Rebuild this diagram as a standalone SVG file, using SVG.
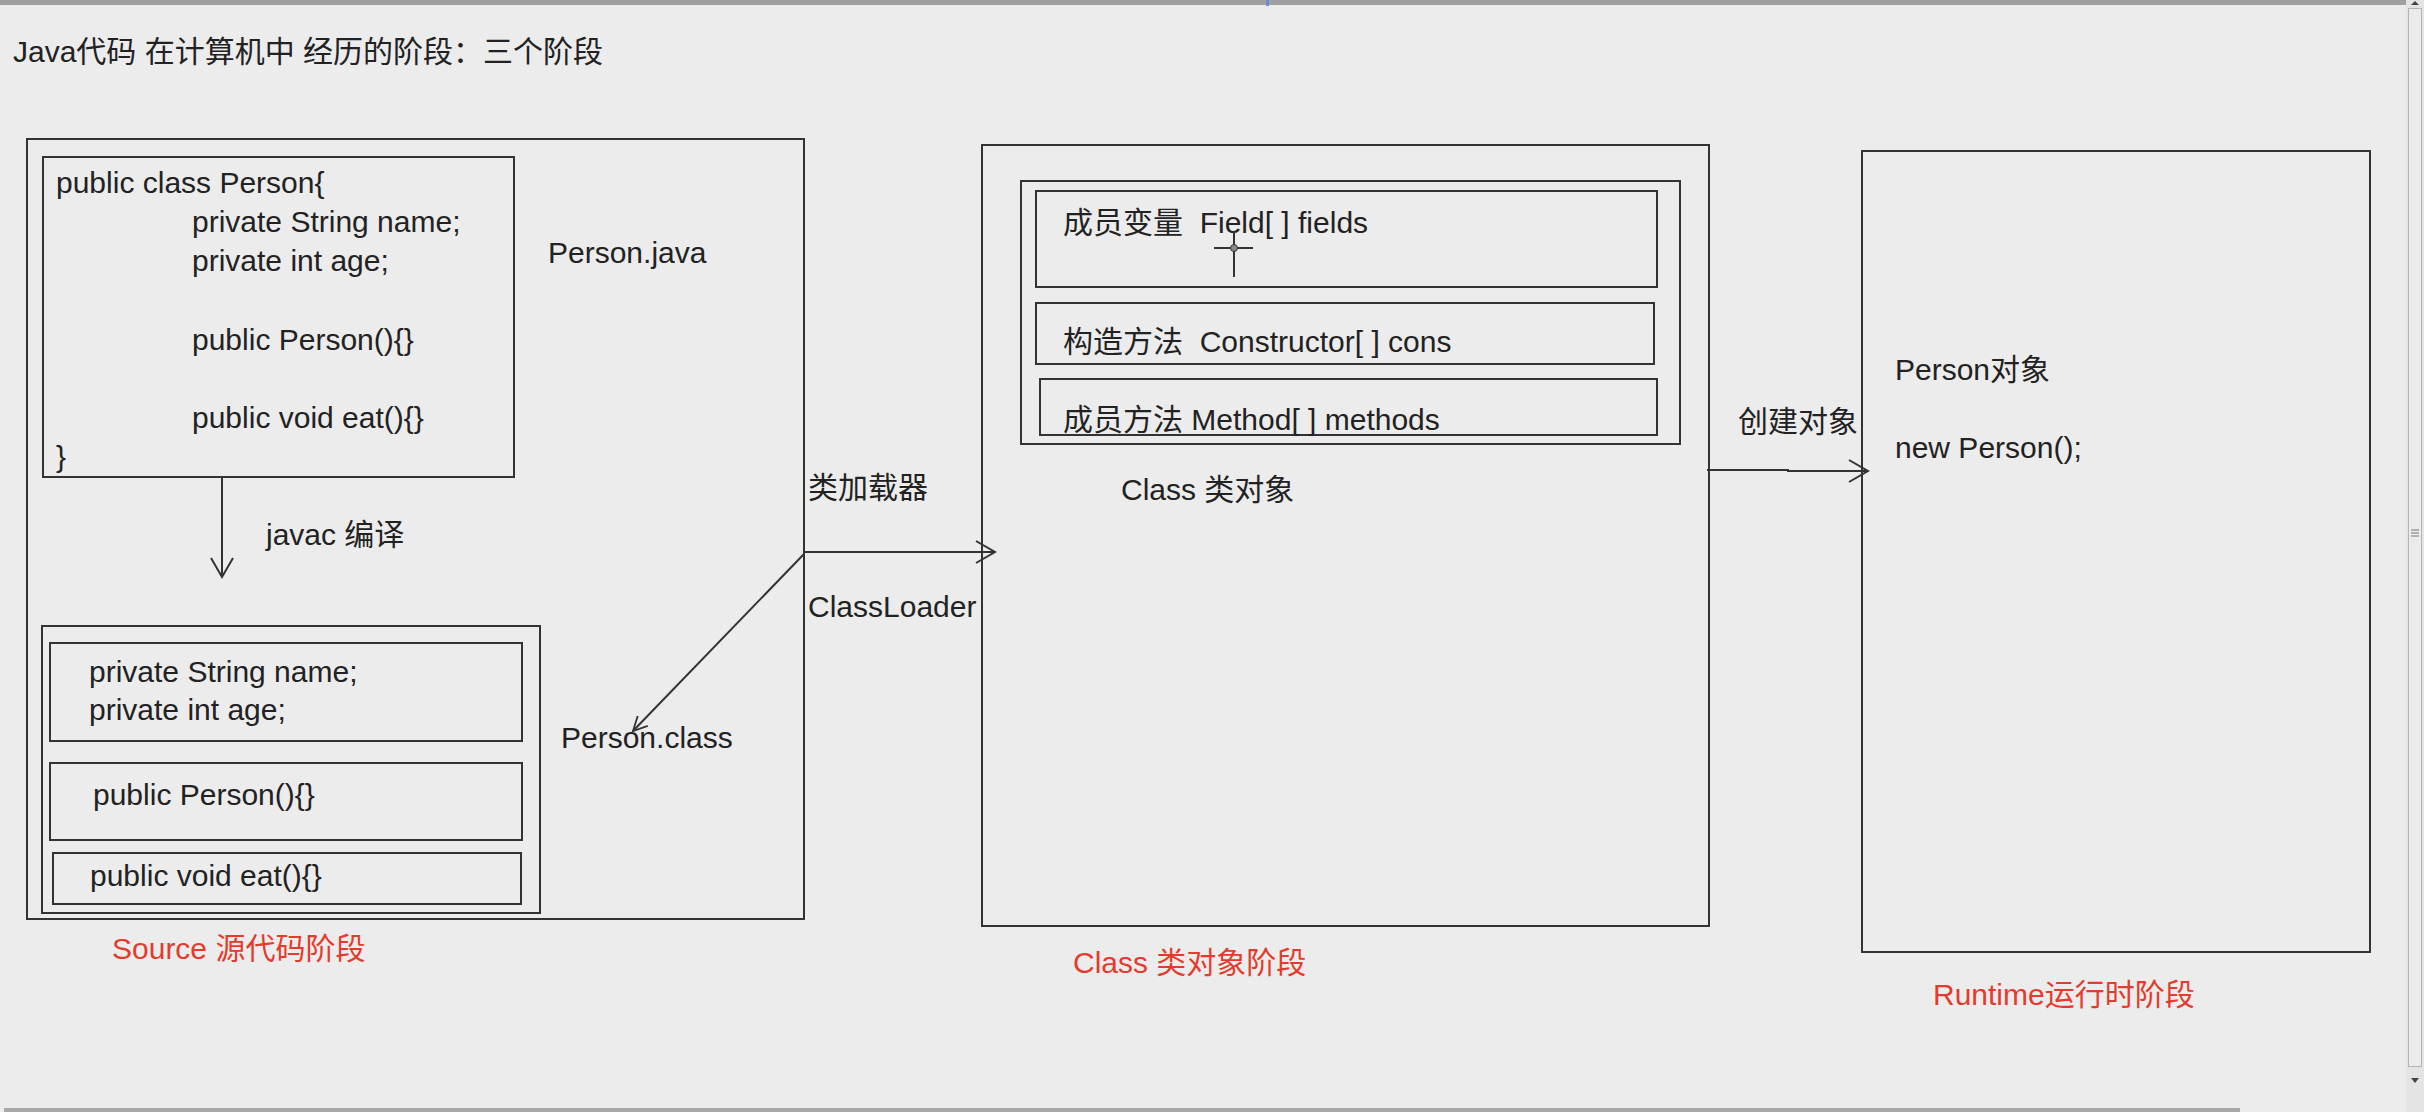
<svg xmlns="http://www.w3.org/2000/svg" width="2424" height="1112" viewBox="0 0 2424 1112">
<defs>
<style>
.t{font-family:"Liberation Sans","Noto Sans CJK SC",Arial,sans-serif;font-size:30px;fill:#222;white-space:pre}
.title{font-size:30px}
.red{fill:#e53b2c}
.box{fill:none;stroke:#333;stroke-width:2}
.conn{fill:none;stroke:#333;stroke-width:2}
</style>
<marker id="arr" markerUnits="userSpaceOnUse" markerWidth="26" markerHeight="26" refX="22" refY="13" orient="auto">
<path d="M3,2 L22,13 L3,24" fill="none" stroke="#333" stroke-width="2"/>
</marker>
<marker id="arrS" markerUnits="userSpaceOnUse" markerWidth="20" markerHeight="20" refX="17" refY="10" orient="auto">
<path d="M3,3 L17,10 L3,17" fill="none" stroke="#333" stroke-width="1.8"/>
</marker>
</defs>
<rect x="0" y="0" width="2424" height="1112" fill="#ececec"/>
<g id="window-chrome">
<rect x="0" y="0" width="2406" height="5" fill="#a0a0a0"/>
<rect x="1266" y="0" width="3" height="6" fill="#6f8fd0"/>
<rect x="2406" y="0" width="18" height="1112" fill="#e4e4e4"/>
<rect x="2408.5" y="8.5" width="13" height="1058" fill="#ebebeb" stroke="#b4b4b4"/>
<path d="M2411,5 L2415,1 L2419,5 Z" fill="#444"/>
<path d="M2411,530 h8 M2411,533 h8 M2411,536 h8" stroke="#777" stroke-width="1"/>
<path d="M2411,1078 L2419,1078 L2415,1083 Z" fill="#444"/>
<rect x="4" y="1108" width="2236" height="4" fill="#a8a8a8"/>
</g>
<g id="title">
<text class="t title" x="13" y="62">Java代码 在计算机中 经历的阶段：三个阶段</text>
</g>
<g id="source-stage">
<rect class="box" x="27" y="139" width="777" height="780"/>
<text class="t" x="548" y="263">Person.java</text>
<text class="t" x="561" y="748">Person.class</text>
<text class="t red" x="112" y="959">Source 源代码阶段</text>
</g>
<g id="person-java">
<rect class="box" x="43" y="157" width="471" height="320"/>
<text class="t" x="56" y="193">public class Person{</text>
<text class="t" x="192" y="232">private String name;</text>
<text class="t" x="192" y="271">private int age;</text>
<text class="t" x="192" y="350">public Person(){}</text>
<text class="t" x="192" y="428">public void eat(){}</text>
<text class="t" x="56" y="467">}</text>
</g>
<g id="person-class">
<rect class="box" x="42" y="626" width="498" height="287"/>
<rect class="box" x="50" y="643" width="472" height="98"/>
<text class="t" x="89" y="682">private String name;</text>
<text class="t" x="89" y="720">private int age;</text>
<rect class="box" x="50" y="763" width="472" height="77"/>
<text class="t" x="93" y="805">public Person(){}</text>
<rect class="box" x="53" y="853" width="468" height="51"/>
<text class="t" x="90" y="886">public void eat(){}</text>
</g>
<g id="class-stage">
<rect class="box" x="982" y="145" width="727" height="781"/>
<text class="t" x="1121" y="500">Class 类对象</text>
<text class="t red" x="1073" y="973">Class 类对象阶段</text>
</g>
<g id="class-object">
<rect class="box" x="1021" y="181" width="659" height="263"/>
<rect class="box" x="1036" y="191" width="621" height="96"/>
<text class="t" x="1063" y="233">成员变量  Field[ ] fields</text>
<rect class="box" x="1036" y="303" width="618" height="61"/>
<text class="t" x="1063" y="352">构造方法  Constructor[ ] cons</text>
<rect class="box" x="1040" y="379" width="617" height="56"/>
<text class="t" x="1063" y="430">成员方法 Method[ ] methods</text>
</g>
<g id="runtime-stage">
<rect class="box" x="1862" y="151" width="508" height="801"/>
<text class="t" x="1895" y="380">Person对象</text>
<text class="t" x="1895" y="458">new Person();</text>
<text class="t red" x="1933" y="1005">Runtime运行时阶段</text>
</g>
<g id="connectors">
<line class="conn" x1="222" y1="477" x2="222" y2="577" marker-end="url(#arr)"/>
<text class="t" x="266" y="545">javac 编译</text>
<line class="conn" x1="804" y1="552" x2="995" y2="552" marker-end="url(#arr)"/>
<text class="t" x="808" y="498">类加载器</text>
<text class="t" x="808" y="617">ClassLoader</text>
<line class="conn" x1="804" y1="554" x2="633" y2="731" marker-end="url(#arrS)"/>
<path class="conn" d="M1707,470 L1788,470 L1788,471 L1868,471" marker-end="url(#arr)"/>
<text class="t" x="1738" y="432">创建对象</text>
</g>
<g id="cursor">
<path d="M1234,231 V277 M1214,248 H1253" stroke="#333" stroke-width="2"/>
<circle cx="1234" cy="248" r="3.5" fill="#888" stroke="#333" stroke-width="1"/>
</g>
</svg>
